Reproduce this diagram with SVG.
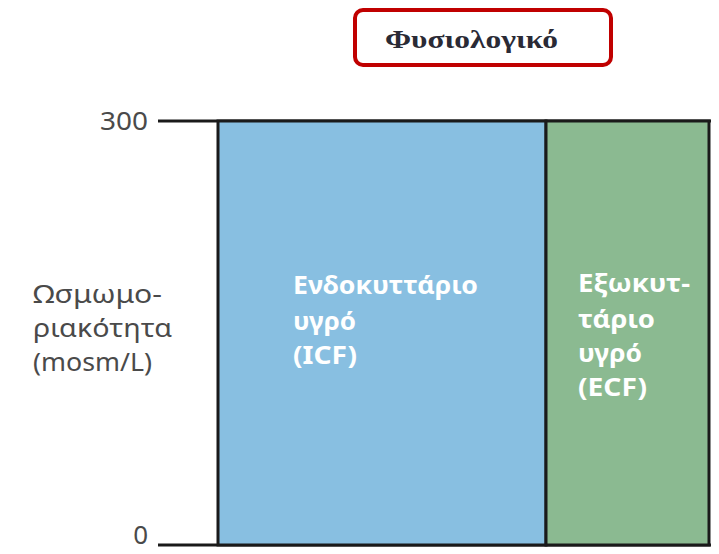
<svg xmlns="http://www.w3.org/2000/svg" width="719" height="554" viewBox="0 0 719 554">
  <style>
    .axis { font-family: "Noto Sans", "Open Sans", sans-serif; fill: #4a4a4a; font-size: 26px; }
    .lbl { font-family: "Noto Sans", "Open Sans", sans-serif; fill: #ffffff; font-size: 25px; font-weight: bold; }
    .frame { stroke: #1a1a1a; stroke-width: 3; }
  </style>
  <rect width="719" height="554" fill="#ffffff"/>
  <g id="title">
    <rect x="355" y="10" width="256" height="55" rx="8" ry="8" fill="#ffffff" stroke="#c00000" stroke-width="4"/>
    <text x="385" y="48" font-family="Liberation Serif, serif" font-size="25" font-weight="bold" fill="#2a2a35" textLength="173" lengthAdjust="spacingAndGlyphs">Φυσιολογικό</text>
  </g>
  <g id="axis">
    <line class="frame" x1="158" y1="121" x2="711" y2="121"/>
    <line class="frame" x1="158" y1="545" x2="711" y2="545"/>
    <text class="axis" x="148" y="130" text-anchor="end" textLength="48" lengthAdjust="spacingAndGlyphs">300</text>
    <text class="axis" x="148" y="544" text-anchor="end" font-size="20">0</text>
    <text class="axis" x="33" y="303" textLength="129" lengthAdjust="spacingAndGlyphs">Ωσμωμο-</text>
    <text class="axis" x="33" y="337" textLength="139" lengthAdjust="spacingAndGlyphs">ριακότητα</text>
    <text class="axis" x="33" y="371" textLength="119" lengthAdjust="spacingAndGlyphs">(mosm/L)</text>
  </g>
  <g id="icf">
    <rect class="frame" x="218" y="121" width="328" height="424" fill="#88bfe1"/>
    <text class="lbl" x="293" y="294" textLength="185" lengthAdjust="spacingAndGlyphs">Ενδοκυττάριο</text>
    <text class="lbl" x="293" y="330" textLength="63" lengthAdjust="spacingAndGlyphs">υγρό</text>
    <text class="lbl" x="293" y="364" textLength="64" lengthAdjust="spacingAndGlyphs">(ICF)</text>
  </g>
  <g id="ecf">
    <rect class="frame" x="546" y="121" width="163" height="424" fill="#8bba91"/>
    <text class="lbl" x="578" y="292" textLength="112" lengthAdjust="spacingAndGlyphs">Εξωκυτ-</text>
    <text class="lbl" x="578" y="328" textLength="77" lengthAdjust="spacingAndGlyphs">τάριο</text>
    <text class="lbl" x="578" y="362" textLength="64" lengthAdjust="spacingAndGlyphs">υγρό</text>
    <text class="lbl" x="578" y="396" textLength="69" lengthAdjust="spacingAndGlyphs">(ECF)</text>
  </g>
</svg>
